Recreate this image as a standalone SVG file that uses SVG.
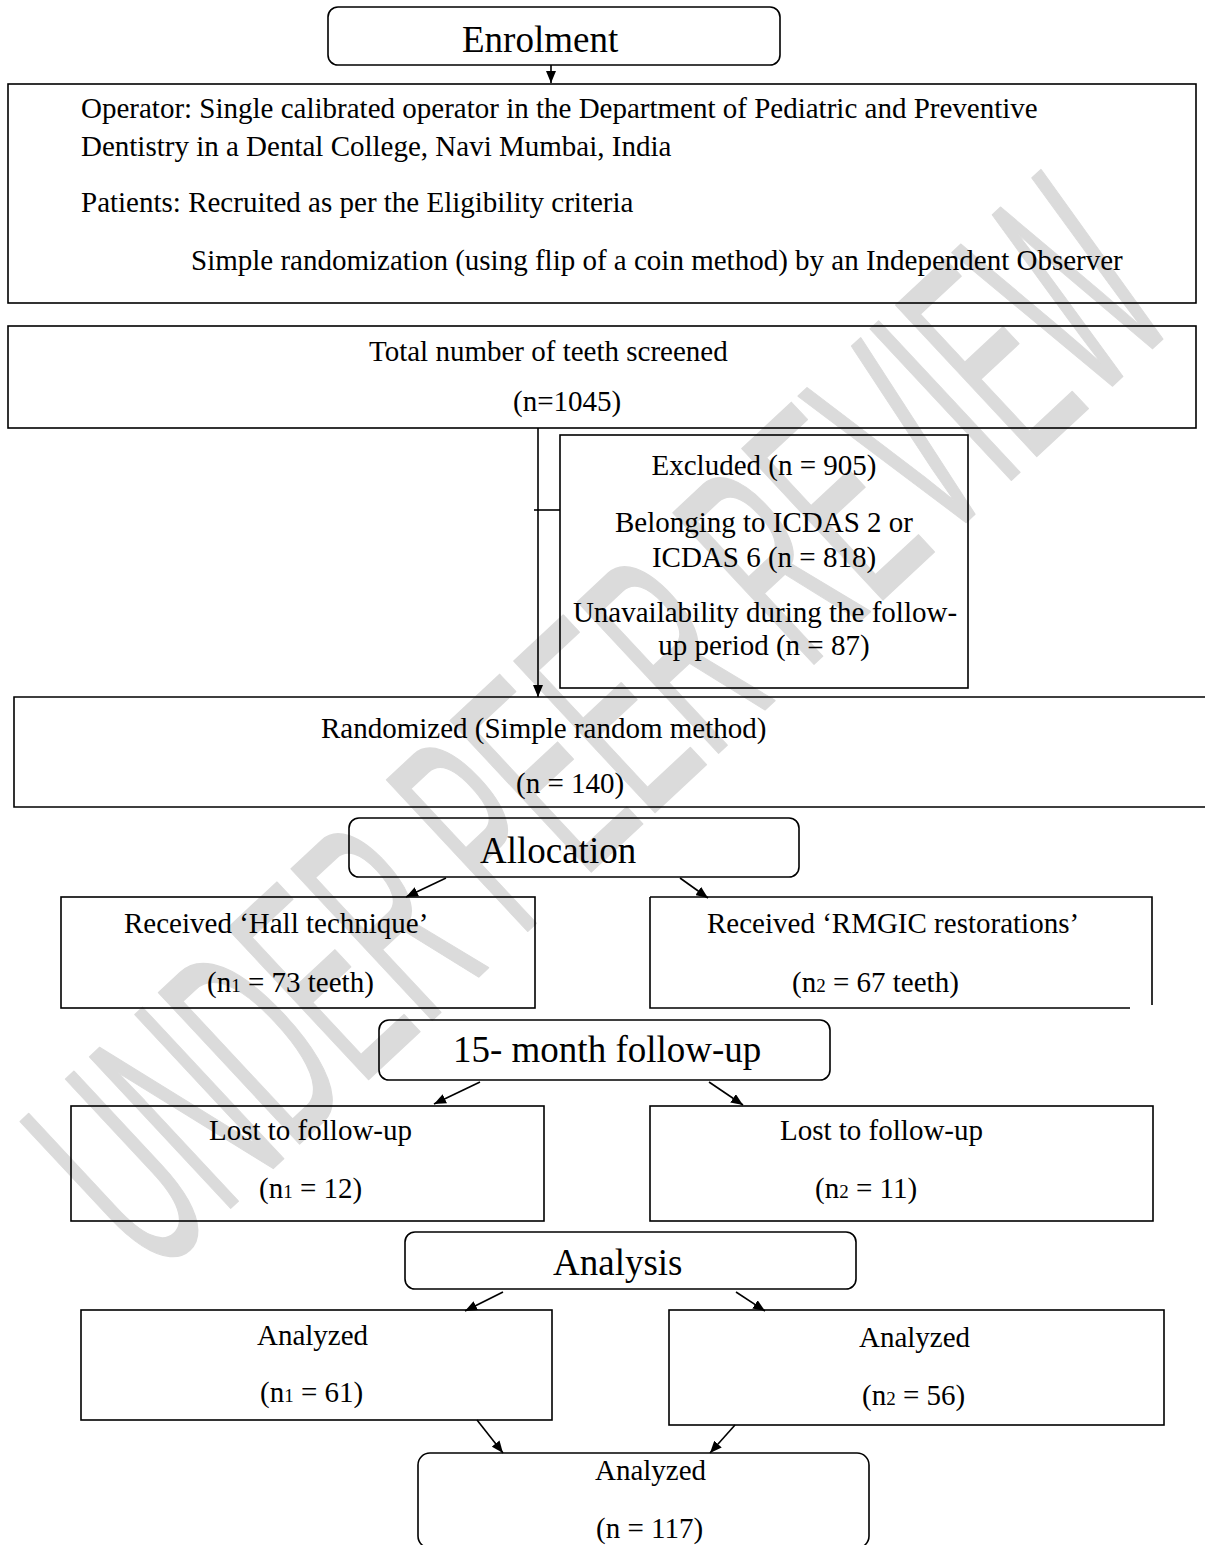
<svg xmlns="http://www.w3.org/2000/svg" width="1205" height="1545" viewBox="0 0 1205 1545">
<style>
.bx{fill:none;stroke:#000;stroke-width:1.6}
.t{font-family:"Liberation Serif","Times New Roman",serif;font-size:29px;fill:#000}
.h{font-size:37px}
.s{font-size:19px}
.c{text-anchor:middle}
.wm{font-family:"Liberation Sans",Arial,sans-serif;font-size:300px;fill:#dbdbdb;stroke:#dbdbdb;stroke-width:2;stroke-linejoin:round}
.ln{fill:none;stroke:#000;stroke-width:1.6}
</style>
<defs>
<marker id="ah" viewBox="0 0 12 10" refX="12" refY="5" markerWidth="12" markerHeight="10" markerUnits="userSpaceOnUse" orient="auto">
<path d="M0,0 L12,5 L0,10 z" fill="#000"/>
</marker>
</defs>
<rect width="1205" height="1545" fill="#fff"/>
<g id="watermark">
<text class="wm c" transform="translate(668,800) rotate(-43) scale(0.435,1)">UNDER PEER REVIEW</text>
</g>
<g id="enrolment">
<rect class="bx" x="328" y="7" width="452" height="58" rx="10"/>
<text class="t h" x="462" y="52">Enrolment</text>
</g>
<g id="operator">
<rect class="bx" x="8" y="84" width="1188" height="219"/>
<text class="t" x="81" y="118">Operator: Single calibrated operator in the Department of Pediatric and Preventive</text>
<text class="t" x="81" y="156">Dentistry in a Dental College, Navi Mumbai, India</text>
<text class="t" x="81" y="212">Patients: Recruited as per the Eligibility criteria</text>
<text class="t" x="191" y="270">Simple randomization (using flip of a coin method) by an Independent Observer</text>
</g>
<g id="screened">
<rect class="bx" x="8" y="326" width="1188" height="102"/>
<text class="t" x="369" y="361">Total number of teeth screened</text>
<text class="t" x="513" y="411">(n=1045)</text>
</g>
<g id="excluded">
<rect class="bx" x="560" y="435" width="408" height="253"/>
<text class="t c" x="764" y="475">Excluded (n = 905)</text>
<text class="t c" x="764" y="532">Belonging to ICDAS 2 or</text>
<text class="t c" x="764" y="567">ICDAS 6 (n = 818)</text>
<text class="t c" x="765" y="622">Unavailability during the follow-</text>
<text class="t c" x="764" y="655">up period (n = 87)</text>
</g>
<g id="randomized">
<path class="bx" d="M1210,697 H14 V807 H1210"/>
<text class="t" x="321" y="738">Randomized (Simple random method)</text>
<text class="t" x="516" y="793">(n = 140)</text>
</g>
<g id="allocation">
<rect class="bx" x="349" y="818" width="450" height="59" rx="10"/>
<text class="t h" x="480" y="863">Allocation</text>
</g>
<g id="hall">
<rect class="bx" x="61" y="897" width="474" height="111"/>
<text class="t" x="124" y="933">Received ‘Hall technique’</text>
<text class="t" x="207" y="992">(n<tspan class="s">1</tspan> = 73 teeth)</text>
</g>
<g id="rmgic">
<path class="bx" d="M650,897 H1152 V1005 M1130,1008 H650 V897"/>
<text class="t" x="707" y="933">Received ‘RMGIC restorations’</text>
<text class="t" x="792" y="992">(n<tspan class="s">2</tspan> = 67 teeth)</text>
</g>
<g id="followup">
<rect class="bx" x="379" y="1020" width="451" height="60" rx="10"/>
<text class="t h" x="453" y="1062">15- month follow-up</text>
</g>
<g id="lost1">
<rect class="bx" x="71" y="1106" width="473" height="115"/>
<text class="t" x="209" y="1140">Lost to follow-up</text>
<text class="t" x="259" y="1198">(n<tspan class="s">1</tspan> = 12)</text>
</g>
<g id="lost2">
<rect class="bx" x="650" y="1106" width="503" height="115"/>
<text class="t" x="780" y="1140">Lost to follow-up</text>
<text class="t" x="815" y="1198">(n<tspan class="s">2</tspan> = 11)</text>
</g>
<g id="analysis">
<rect class="bx" x="405" y="1232" width="451" height="57" rx="10"/>
<text class="t h" x="553" y="1275">Analysis</text>
</g>
<g id="analyzed1">
<rect class="bx" x="81" y="1310" width="471" height="110"/>
<text class="t" x="257" y="1345">Analyzed</text>
<text class="t" x="260" y="1402">(n<tspan class="s">1</tspan> = 61)</text>
</g>
<g id="analyzed2">
<rect class="bx" x="669" y="1310" width="495" height="115"/>
<text class="t" x="859" y="1347">Analyzed</text>
<text class="t" x="862" y="1405">(n<tspan class="s">2</tspan> = 56)</text>
</g>
<g id="analyzedTotal">
<rect class="bx" x="418" y="1453" width="451" height="95" rx="12"/>
<text class="t" x="595" y="1480">Analyzed</text>
<text class="t" x="596" y="1538">(n = 117)</text>
</g>
<g id="connectors">
<path class="ln" d="M551,65 V83" marker-end="url(#ah)"/>
<path class="ln" d="M538,428 V697" marker-end="url(#ah)"/>
<path class="ln" d="M534,510 H560"/>
<path class="ln" d="M446,878 L406,897" marker-end="url(#ah)"/>
<path class="ln" d="M680,878 L708,898" marker-end="url(#ah)"/>
<path class="ln" d="M480,1082 L434,1104" marker-end="url(#ah)"/>
<path class="ln" d="M709,1082 L743,1105" marker-end="url(#ah)"/>
<path class="ln" d="M503,1292 L465,1311" marker-end="url(#ah)"/>
<path class="ln" d="M736,1292 L765,1311" marker-end="url(#ah)"/>
<path class="ln" d="M477,1420 L503,1453" marker-end="url(#ah)"/>
<path class="ln" d="M735,1425 L710,1453" marker-end="url(#ah)"/>
</g>
</svg>
